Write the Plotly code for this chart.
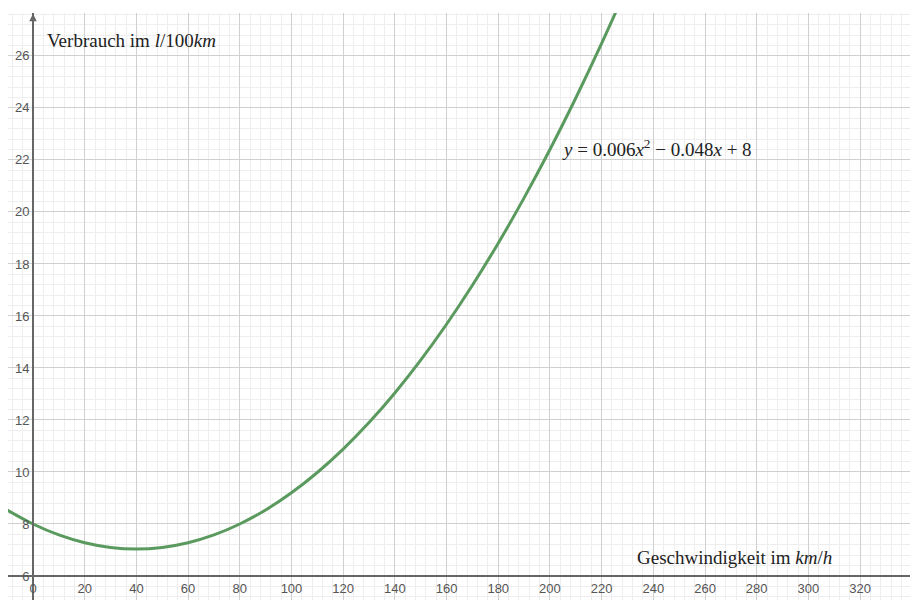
import plotly.graph_objects as go

# Values (speed in km/h, consumption in l/100km)
speed = [-10, 0, 10, 20, 30, 40, 50, 60, 70, 80, 90, 100, 110, 120, 130, 140,
         150, 160, 170, 180, 190, 200, 210, 220, 230]
consumption = [8.54, 8.0, 7.58, 7.28, 7.1, 7.04, 7.1, 7.28, 7.58, 8.0, 8.54, 9.2,
               9.98, 10.88, 11.9, 13.04, 14.3, 15.68, 17.18, 18.8, 20.54, 22.4,
               24.38, 26.48, 28.7]

x_ticks = list(range(0, 341, 20))
y_ticks = list(range(6, 27, 2))

y_label = "Verbrauch im <i>l</i>/100<i>km</i>"
x_label = "Geschwindigkeit im <i>km</i>/<i>h</i>"
eq_label = "<i>y</i> = 0.006<i>x</i><sup>2</sup> − 0.048<i>x</i> + 8"

x_range = [-9.67, 342.4]
y_range = [5.077, 27.65]

fig = go.Figure()
fig.add_trace(go.Scatter(
    x=speed, y=consumption, mode="lines",
    line=dict(color="#5b9a5e", width=3, shape="spline"),
    hoverinfo="skip", showlegend=False, cliponaxis=True,
))

xpos = (6 - y_range[0]) / (y_range[1] - y_range[0])
ypos = (0 - x_range[0]) / (x_range[1] - x_range[0])

axis_font = dict(family="Liberation Sans, Arial, sans-serif", size=13, color="#555555")

# page has an 8px body margin, so the figure is sized to end at the window edge
fig.update_layout(
    width=910, height=592,
    margin=dict(l=0, r=0, t=5, b=0, autoexpand=False),
    paper_bgcolor="white", plot_bgcolor="white",
    xaxis=dict(
        range=x_range, tickvals=x_ticks, ticktext=[str(v) for v in x_ticks],
        showgrid=True, gridcolor="#d0d0d0", gridwidth=1.3,
        minor=dict(dtick=4, tick0=0, showgrid=True, gridcolor="#eeeeee", gridwidth=1),
        zeroline=False, showline=True, linecolor="#666666", linewidth=2,
        anchor="free", position=xpos, side="bottom", automargin=False,
        ticks="", tickfont=axis_font, fixedrange=True,
    ),
    yaxis=dict(
        range=y_range, tickvals=y_ticks, ticktext=[str(v) for v in y_ticks],
        showgrid=True, gridcolor="#d0d0d0", gridwidth=1.3,
        minor=dict(dtick=0.4, tick0=0, showgrid=True, gridcolor="#eeeeee", gridwidth=1),
        zeroline=False, showline=True, linecolor="#666666", linewidth=2,
        anchor="free", position=ypos, side="left", automargin=False,
        ticks="", tickfont=axis_font, fixedrange=True,
    ),
)

serif = dict(family="Liberation Serif, DejaVu Serif, serif", size=19, color="#222222")

fig.add_annotation(x=4.6, y=26.6, text=y_label, showarrow=False,
                   xanchor="left", yanchor="middle", font=serif)
fig.add_annotation(x=232.9, y=6.73, text=x_label, showarrow=False,
                   xanchor="left", yanchor="middle", font=serif)
fig.add_annotation(x=203.9, y=22.46, text=eq_label, showarrow=False,
                   xanchor="left", yanchor="middle", font=serif)

# arrow at top of y-axis
fig.add_annotation(x=0, y=27.62, ax=0, ay=26.9, xref="x", yref="y", axref="x", ayref="y",
                   text="", showarrow=True, arrowhead=2, arrowsize=1, arrowwidth=1.5,
                   arrowcolor="#666666")

fig.write_html("out.html")
